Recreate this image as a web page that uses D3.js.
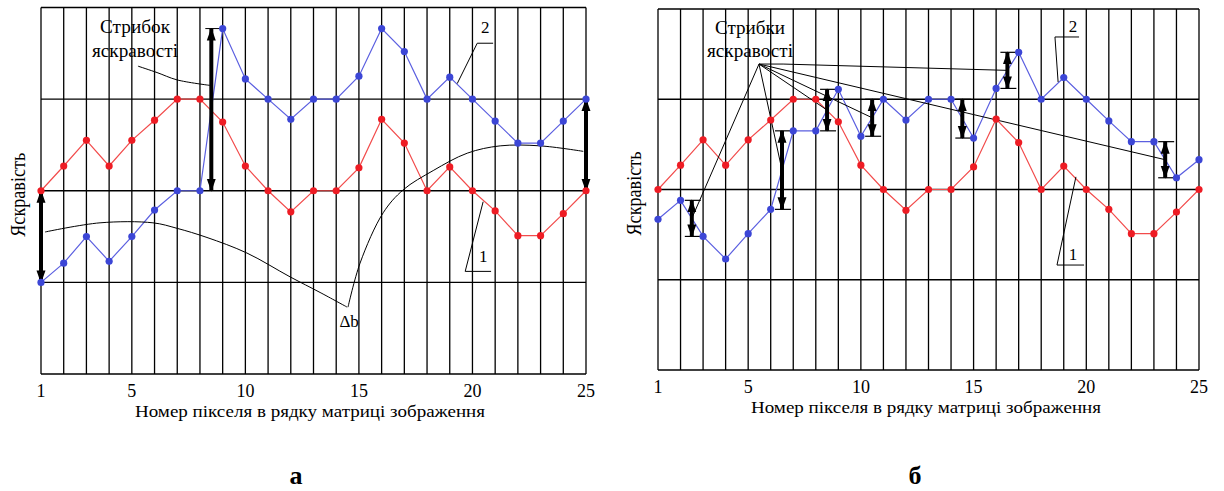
<!DOCTYPE html>
<html><head><meta charset="utf-8">
<script src="https://cdn.jsdelivr.net/npm/d3@7"></script>
<style>
body{margin:0;background:#fff}
svg{display:block}
text{font-family:"Liberation Serif","Times New Roman",serif;fill:#000}
</style>
</head><body>
<svg id="c" width="1224" height="491"></svg>
<script>
// ---------- data ----------
const pixels = [1,2,3,4,5,6,7,8,9,10,11,12,13,14,15,16,17,18,19,20,21,22,23,24,25];
const xTicks = [1,5,10,15,20,25];
const yLevels = [0,1,2,3,4];
// series 1 (red) – same in both panels
const series1 = [2,2.27,2.55,2.27,2.55,2.77,3,3,2.75,2.27,2,1.77,2,2,2.25,2.78,2.52,2,2.26,2,1.78,1.51,1.51,1.75,2];
// series 2 (blue), panel a
const series2a = [1,1.21,1.5,1.23,1.5,1.79,2,2,3.77,3.22,3,2.78,3,3,3.25,3.77,3.52,3,3.24,3,2.76,2.52,2.52,2.76,3];
// series 2 (blue), panel b
const series2b = [1.67,1.88,1.48,1.23,1.51,1.78,2.65,2.65,3.11,2.59,3,2.77,3,3,2.57,3.12,3.52,3,3.24,3,2.76,2.53,2.53,2.13,2.33];
// brightness jumps (panel a): [x, from, to]
const jumpsA = [[1,2,1],[8.5,3.77,2],[25,3,2]];
// brightness jumps (panel b): index i => between pixel i and i+1
const jumpsB = [2,6,8,10,14,16,23];
const hubTargetsB = [2,6,8,10,23];
const hubB = [5.48,3.39];
const hubElbowB = [6.55,3.39];
const hubElbowTarget = 16;
// Δb curves (panel a), in [pixel, level]
const curveA1 = [[1.18,1.55],[3.6,1.65],[5.93,1.65],[6.99,1.59],[8.31,1.49],[10.07,1.32],[11.97,1.06],[13.29,0.89],[14.48,0.73]];
const curveA2 = [[14.52,0.73],[15.05,1.21],[16.07,1.76],[16.95,2.01],[18.27,2.22],[19.77,2.41],[21.22,2.49],[22.98,2.49],[24.88,2.43]];
const leaderJumpA = [[5.27,3.36],[6.11,3.29],[6.99,3.21],[8.44,3.15]];
const xTitle = "Номер пікселя в рядку матриці зображення";
const yTitle = "Яскравість";

// ---------- layout ----------
const panels = [
  {key:"a", x0:41, x1:586, yTop:7.5, yBot:374, blue:series2a, yTitleX:25, titleCx:310, letter:"а", letterX:296,
   jumpText:["Стрибок","яскравості"], jumpTextX:5.14,
   lab2:{t:[20.56,3.72], h:[[20.21,3.61],[20.91,3.61]], l:[[20.21,3.61],[19.33,3.17]]},
   lab1:{t:[20.47,1.22], h:[[19.68,1.12],[20.82,1.12]], l:[[19.68,1.12],[20.47,1.88]]}},
  {key:"b", x0:658, x1:1199, yTop:9, yBot:370, blue:series2b, yTitleX:641, titleCx:926, letter:"б", letterX:915,
   jumpText:["Стрибки","яскравості"], jumpTextX:5.08,
   lab2:{t:[19.41,3.745], h:[[18.61,3.69],[19.68,3.69]], l:[[18.61,3.69],[18.75,3.19]]},
   lab1:{t:[19.41,1.22], h:[[18.70,1.163],[19.90,1.163]], l:[[18.70,1.163],[19.54,2.14]]}}
];

const svg = d3.select("#c");
const defs = svg.append("defs");
defs.append("marker").attr("id","ah").attr("markerUnits","userSpaceOnUse")
  .attr("viewBox","0 -5 13 10").attr("refX",12).attr("refY",0)
  .attr("markerWidth",13).attr("markerHeight",10).attr("orient","auto-start-reverse")
  .append("path").attr("d","M0,-4.5L13,0L0,4.5Z").attr("fill","#000");

const RED_LINE="#f24b4b", RED_PT="#ee1c24", BLUE_LINE="#5b5fe0", BLUE_PT="#3c46d6";

panels.forEach(p=>{
  const g = svg.append("g");
  const x = d3.scaleLinear().domain([1,25]).range([p.x0,p.x1]);
  const y = d3.scaleLinear().domain([0,4]).range([p.yBot,p.yTop]);

  // grid
  g.selectAll(".vl").data(pixels).join("line")
    .attr("x1",d=>x(d)).attr("x2",d=>x(d)).attr("y1",y(0)).attr("y2",y(4))
    .attr("stroke","#000").attr("stroke-width",1.3);
  g.selectAll(".hl").data(yLevels).join("line")
    .attr("x1",x(1)).attr("x2",x(25)).attr("y1",d=>y(d)).attr("y2",d=>y(d))
    .attr("stroke","#000").attr("stroke-width",1.3);

  // x tick labels
  g.selectAll(".xt").data(xTicks).join("text")
    .attr("x",d=>x(d)).attr("y",p.yBot+23).attr("text-anchor","middle")
    .attr("font-size",18).text(d=>d);

  // axis titles
  g.append("text").attr("x",p.titleCx).attr("y",p.yBot+43).attr("text-anchor","middle")
    .attr("font-size",16).attr("textLength",350).attr("lengthAdjust","spacingAndGlyphs").text(xTitle);
  g.append("text").attr("transform",`translate(${p.yTitleX},${(p.yTop+p.yBot)/2+4}) rotate(-90)`)
    .attr("text-anchor","middle").attr("font-size",21).attr("textLength",84)
    .attr("lengthAdjust","spacingAndGlyphs").text(yTitle);
  g.append("text").attr("x",p.letterX).attr("y",484).attr("text-anchor","middle")
    .attr("font-size",25).attr("font-weight","bold").attr("textLength",13)
    .attr("lengthAdjust","spacingAndGlyphs").text(p.letter);

  const line = d3.line().x((d,i)=>x(pixels[i])).y(d=>y(d));
  const thin = d3.line().x(d=>x(d[0])).y(d=>y(d[1]));

  // annotations (leaders)
  const lead = (pts,curve)=>g.append("path").attr("d",(curve?thin.curve(d3.curveCatmullRom):thin.curve(d3.curveLinear))(pts))
      .attr("fill","none").attr("stroke","#000").attr("stroke-width",1);

  // series lines
  g.append("path").attr("d",line(series1)).attr("fill","none").attr("stroke",RED_LINE).attr("stroke-width",1.2);
  g.append("path").attr("d",line(p.blue)).attr("fill","none").attr("stroke",BLUE_LINE).attr("stroke-width",1.2);

  if(p.key==="a"){
    lead(curveA1,true); lead(curveA2,true); lead(leaderJumpA,true);
    g.append("text").attr("x",x(14.57)).attr("y",y(0.51)).attr("text-anchor","middle").attr("font-size",17).text("Δb");
    // jump arrows
    jumpsA.forEach(j=>{
      g.append("line").attr("x1",x(j[0])).attr("x2",x(j[0])).attr("y1",y(j[1])).attr("y2",y(j[2]))
        .attr("stroke","#000").attr("stroke-width",4)
        .attr("marker-start","url(#ah)").attr("marker-end","url(#ah)");
    });
    g.append("line").attr("x1",x(8.5)-6).attr("x2",x(9)).attr("y1",y(3.77)).attr("y2",y(3.77))
      .attr("stroke","#000").attr("stroke-width",1);
  } else {
    // hub lines
    hubTargetsB.forEach(i=>{
      lead([hubB,[i+0.5,(series2b[i-1]+series2b[i])/2]],false);
    });
    lead([hubB,hubElbowB,[hubElbowTarget+0.5,(series2b[hubElbowTarget-1]+series2b[hubElbowTarget])/2]],false);
    jumpsB.forEach(i=>{
      const a=series2b[i-1], b=series2b[i], xx=x(i+0.5);
      g.append("line").attr("x1",xx).attr("x2",xx).attr("y1",y(a)).attr("y2",y(b))
        .attr("stroke","#000").attr("stroke-width",4)
        .attr("marker-start","url(#ah)").attr("marker-end","url(#ah)");
      [a,b].forEach(v=>g.append("line").attr("x1",xx-7).attr("x2",xx+9).attr("y1",y(v)).attr("y2",y(v))
        .attr("stroke","#000").attr("stroke-width",1.2));
    });
  }

  // jump label
  g.append("text").attr("x",x(p.jumpTextX)).attr("y",y(3.725)).attr("text-anchor","middle")
    .attr("font-size",18).attr("textLength",70).attr("lengthAdjust","spacingAndGlyphs").text(p.jumpText[0]);
  g.append("text").attr("x",x(p.jumpTextX)).attr("y",y(3.465)).attr("text-anchor","middle")
    .attr("font-size",18).attr("textLength",86).attr("lengthAdjust","spacingAndGlyphs").text(p.jumpText[1]);

  // series labels
  [[p.lab2,"2"],[p.lab1,"1"]].forEach(([L,t])=>{
    lead(L.h,false); lead(L.l,false);
    g.append("text").attr("x",x(L.t[0])).attr("y",y(L.t[1])).attr("text-anchor","middle").attr("font-size",17).text(t);
  });

  // points
  g.selectAll(".rp").data(series1).join("circle").attr("cx",(d,i)=>x(pixels[i])).attr("cy",d=>y(d))
    .attr("r",3.6).attr("fill",RED_PT);
  g.selectAll(".bp").data(p.blue).join("circle").attr("cx",(d,i)=>x(pixels[i])).attr("cy",d=>y(d))
    .attr("r",3.6).attr("fill",BLUE_PT);
});
</script>
</body></html>
